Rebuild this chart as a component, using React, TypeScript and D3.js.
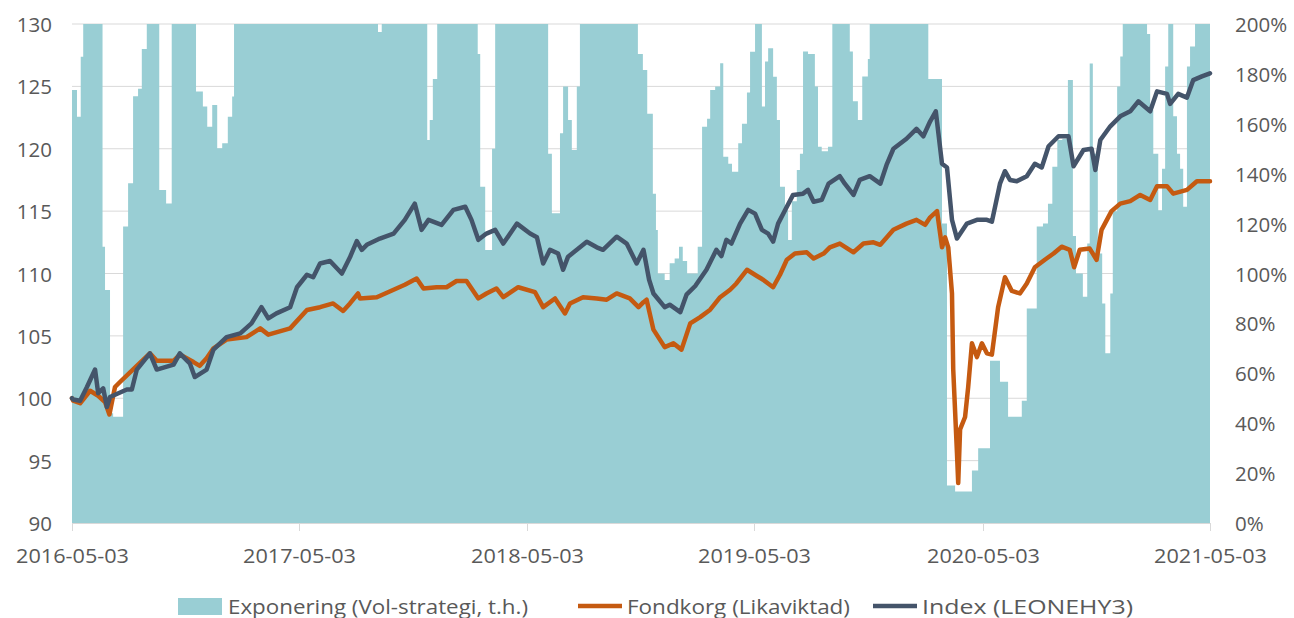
import React from "react";
import * as d3 from "d3";

// ---------- DATA ----------
const xTickLabels = ["2016-05-03", "2017-05-03", "2018-05-03", "2019-05-03", "2020-05-03", "2021-05-03"];
const leftTicks = [90, 95, 100, 105, 110, 115, 120, 125, 130];
const rightTicks = [0, 20, 40, 60, 80, 100, 120, 140, 160, 180, 200];
const seriesNames = ["Exponering (Vol-strategi, t.h.)", "Fondkorg (Likaviktad)", "Index (LEONEHY3)"];

// Exposure (%), step series: [start date, value]
const exposure: [string, number][] = [
  ["2016-05-03", 173.5], ["2016-05-11", 162.8], ["2016-05-17", 186.9], ["2016-05-21", 200],
  ["2016-06-21", 110.7], ["2016-06-25", 93.4], ["2016-07-03", 44], ["2016-07-08", 42.6],
  ["2016-07-24", 118.8], ["2016-07-27", 118.8], ["2016-08-01", 136.2], ["2016-08-09", 171],
  ["2016-08-17", 174], ["2016-08-23", 190], ["2016-08-31", 200], ["2016-09-20", 133.5],
  ["2016-10-01", 128.1], ["2016-10-10", 200], ["2016-11-18", 172.9], ["2016-11-29", 166.9],
  ["2016-12-06", 158.8], ["2016-12-14", 167.5], ["2016-12-22", 150.2], ["2016-12-30", 152.2],
  ["2017-01-08", 162.8], ["2017-01-15", 170.9], ["2017-01-18", 200],
  ["2017-09-06", 196.8], ["2017-09-12", 200],
  ["2017-11-24", 153.5], ["2017-11-28", 161.5], ["2017-12-03", 178], ["2017-12-10", 200],
  ["2018-02-13", 188], ["2018-02-17", 134.8], ["2018-02-25", 109.4], ["2018-03-08", 150], ["2018-03-13", 200],
  ["2018-06-06", 148], ["2018-06-12", 124.1], ["2018-06-25", 156.2], ["2018-06-30", 174.9],
  ["2018-07-08", 161.5], ["2018-07-14", 149.5], ["2018-07-22", 174.9], ["2018-07-27", 200],
  ["2018-10-28", 188], ["2018-11-05", 181.6], ["2018-11-12", 164], ["2018-11-21", 132],
  ["2018-11-26", 117.4], ["2018-11-29", 100], ["2018-12-10", 97.4], ["2018-12-18", 104.1],
  ["2018-12-26", 106], ["2019-01-02", 110.7], ["2019-01-08", 105], ["2019-01-15", 100],
  ["2019-02-01", 110.7], ["2019-02-08", 158.8], ["2019-02-16", 162], ["2019-02-21", 173.5],
  ["2019-03-01", 175], ["2019-03-09", 184.3], ["2019-03-14", 146.8], ["2019-03-22", 144],
  ["2019-03-28", 140.8], ["2019-04-07", 152.2], ["2019-04-13", 160], ["2019-04-21", 172.5],
  ["2019-04-26", 188.9], ["2019-05-04", 200], ["2019-05-15", 166.9], ["2019-05-20", 185],
  ["2019-05-25", 190.3], ["2019-06-02", 178.9], ["2019-06-08", 161.5], ["2019-06-13", 134.8],
  ["2019-06-21", 125.4], ["2019-06-26", 113.4], ["2019-07-02", 129], ["2019-07-10", 141.5],
  ["2019-07-15", 148], ["2019-07-20", 189], ["2019-07-28", 188], ["2019-08-08", 175],
  ["2019-08-13", 150.8], ["2019-08-19", 149], ["2019-08-29", 150.8], ["2019-09-05", 200],
  ["2019-10-03", 189], ["2019-10-08", 169], ["2019-10-16", 161.5], ["2019-10-23", 179],
  ["2019-11-01", 186], ["2019-11-04", 200], ["2020-02-06", 178], ["2020-02-28", 120],
  ["2020-03-07", 15], ["2020-03-20", 12.6], ["2020-04-16", 21], ["2020-04-26", 30],
  ["2020-05-15", 65], ["2020-05-31", 56.6], ["2020-06-13", 42.6], ["2020-07-05", 49],
  ["2020-07-13", 86], ["2020-07-29", 118.8], ["2020-08-08", 120], ["2020-08-16", 128],
  ["2020-08-23", 142.8], ["2020-08-31", 153.5], ["2020-09-08", 154], ["2020-09-17", 177.6],
  ["2020-09-25", 115], ["2020-09-30", 100], ["2020-10-11", 90.7], ["2020-10-18", 112],
  ["2020-10-22", 184.2], ["2020-10-27", 148], ["2020-11-04", 108], ["2020-11-11", 88],
  ["2020-11-16", 68], ["2020-11-24", 92], ["2020-11-28", 125], ["2020-12-05", 175],
  ["2020-12-10", 187], ["2020-12-14", 200], ["2021-01-22", 196], ["2021-01-27", 165.5],
  ["2021-02-01", 148], ["2021-02-09", 125.4], ["2021-02-15", 142], ["2021-02-20", 183],
  ["2021-02-25", 200], ["2021-03-05", 163], ["2021-03-11", 148], ["2021-03-16", 142],
  ["2021-03-21", 126.8], ["2021-03-27", 183], ["2021-04-01", 191], ["2021-04-09", 200],
  ["2021-05-03", 200],
];

// Fondkorg (Likaviktad)
const fondkorg: [string, number][] = [
  ["2016-05-03", 100.0], ["2016-05-05", 99.8], ["2016-05-16", 99.6], ["2016-06-01", 100.6],
  ["2016-06-14", 100.2], ["2016-06-25", 99.7], ["2016-07-02", 98.7], ["2016-07-11", 100.9],
  ["2016-07-19", 101.3], ["2016-08-15", 102.6], ["2016-09-05", 103.6], ["2016-09-16", 103.0],
  ["2016-10-13", 103.0], ["2016-10-23", 103.5], ["2016-11-14", 102.9], ["2016-11-24", 102.6],
  ["2016-12-05", 103.2], ["2016-12-16", 104.0], ["2017-01-06", 104.7], ["2017-02-07", 104.9],
  ["2017-03-01", 105.6], ["2017-03-14", 105.1], ["2017-04-18", 105.6], ["2017-05-15", 107.07],
  ["2017-06-05", 107.3], ["2017-06-26", 107.6], ["2017-07-12", 107.0], ["2017-07-23", 107.6],
  ["2017-08-05", 108.4], ["2017-08-08", 108.0], ["2017-09-04", 108.1], ["2017-10-01", 108.7],
  ["2017-10-19", 109.1], ["2017-11-07", 109.6], ["2017-11-18", 108.8], ["2017-12-09", 108.9],
  ["2017-12-25", 108.9], ["2018-01-10", 109.4], ["2018-01-26", 109.4], ["2018-02-14", 108.0],
  ["2018-02-27", 108.4], ["2018-03-15", 108.8], ["2018-03-26", 108.1], ["2018-04-19", 108.9],
  ["2018-05-16", 108.5], ["2018-05-29", 107.3], ["2018-06-17", 108.0], ["2018-07-03", 106.8],
  ["2018-07-11", 107.6], ["2018-08-01", 108.1], ["2018-08-23", 108.0], ["2018-09-08", 107.9],
  ["2018-09-24", 108.4], ["2018-10-15", 108.0], ["2018-10-29", 107.3], ["2018-11-06", 107.7],
  ["2018-11-11", 107.9], ["2018-11-22", 105.5], ["2018-12-10", 104.1], ["2018-12-24", 104.4],
  ["2019-01-06", 103.9], ["2019-01-20", 106.0], ["2019-02-05", 106.5], ["2019-02-21", 107.1],
  ["2019-03-09", 108.1], ["2019-03-25", 108.7], ["2019-04-04", 109.2], ["2019-04-21", 110.3],
  ["2019-05-07", 109.8], ["2019-05-17", 109.5], ["2019-06-02", 108.9], ["2019-06-13", 109.9],
  ["2019-06-24", 111.1], ["2019-07-07", 111.6], ["2019-07-26", 111.7], ["2019-08-06", 111.2],
  ["2019-08-22", 111.6], ["2019-09-01", 112.1], ["2019-09-17", 112.4], ["2019-10-09", 111.7],
  ["2019-10-25", 112.4], ["2019-11-10", 112.5], ["2019-11-21", 112.3], ["2019-12-12", 113.5],
  ["2020-01-02", 114.0], ["2020-01-18", 114.3], ["2020-02-01", 113.9], ["2020-02-09", 114.5],
  ["2020-02-20", 115.0], ["2020-02-28", 112.1], ["2020-03-04", 112.9], ["2020-03-09", 112.1],
  ["2020-03-15", 108.4], ["2020-03-17", 102.3], ["2020-03-23", 95.6], ["2020-03-25", 93.2],
  ["2020-03-28", 97.5], ["2020-04-05", 98.5], ["2020-04-10", 100.9], ["2020-04-16", 104.4],
  ["2020-04-24", 103.3], ["2020-05-02", 104.4], ["2020-05-10", 103.6], ["2020-05-18", 103.5],
  ["2020-05-28", 107.3], ["2020-06-08", 109.7], ["2020-06-19", 108.6], ["2020-07-02", 108.4],
  ["2020-07-13", 109.2], ["2020-07-26", 110.5], ["2020-08-11", 111.1], ["2020-08-25", 111.6],
  ["2020-09-07", 112.15], ["2020-09-20", 111.9], ["2020-09-27", 110.5], ["2020-10-06", 111.9],
  ["2020-10-22", 112.0], ["2020-11-02", 111.1], ["2020-11-10", 113.5], ["2020-11-26", 115.0],
  ["2020-12-10", 115.6], ["2020-12-26", 115.8], ["2021-01-11", 116.3], ["2021-01-27", 115.9],
  ["2021-02-07", 117.0], ["2021-02-23", 117.0], ["2021-03-05", 116.4], ["2021-03-27", 116.7],
  ["2021-04-12", 117.4], ["2021-05-03", 117.4],
];

// Index (LEONEHY3)
const indexSeries: [string, number][] = [
  ["2016-05-03", 100.0], ["2016-05-05", 99.9], ["2016-05-16", 99.8], ["2016-05-27", 100.9],
  ["2016-06-09", 102.3], ["2016-06-14", 100.4], ["2016-06-22", 100.8], ["2016-06-28", 99.3],
  ["2016-07-03", 100.1], ["2016-07-30", 100.7], ["2016-08-07", 100.7], ["2016-08-15", 102.3],
  ["2016-09-05", 103.6], ["2016-09-16", 102.3], ["2016-10-13", 102.7], ["2016-10-23", 103.6],
  ["2016-11-08", 102.8], ["2016-11-16", 101.7], ["2016-12-05", 102.3], ["2016-12-16", 103.9],
  ["2017-01-06", 104.9], ["2017-01-28", 105.2], ["2017-02-15", 106.0], ["2017-03-03", 107.3],
  ["2017-03-14", 106.4], ["2017-03-27", 106.8], ["2017-04-18", 107.3], ["2017-04-29", 108.9],
  ["2017-05-15", 109.9], ["2017-05-25", 109.7], ["2017-06-05", 110.8], ["2017-06-21", 111.0],
  ["2017-07-10", 110.0], ["2017-07-23", 111.3], ["2017-08-03", 112.6], ["2017-08-11", 111.9],
  ["2017-08-19", 112.3], ["2017-09-09", 112.8], ["2017-10-01", 113.2], ["2017-10-19", 114.3],
  ["2017-11-04", 115.6], ["2017-11-15", 113.5], ["2017-11-26", 114.3], ["2017-12-17", 113.9],
  ["2018-01-05", 115.1], ["2018-01-24", 115.35], ["2018-02-03", 114.3], ["2018-02-14", 112.7],
  ["2018-02-27", 113.2], ["2018-03-13", 113.5], ["2018-03-26", 112.4], ["2018-04-17", 114.0],
  ["2018-05-08", 113.2], ["2018-05-19", 112.9], ["2018-05-29", 110.8], ["2018-06-09", 111.9],
  ["2018-06-22", 111.6], ["2018-06-30", 110.3], ["2018-07-08", 111.35], ["2018-07-27", 112.1],
  ["2018-08-07", 112.55], ["2018-08-23", 112.1], ["2018-09-02", 111.9], ["2018-09-24", 112.95],
  ["2018-10-10", 112.4], ["2018-10-26", 110.8], ["2018-11-06", 111.9], ["2018-11-15", 109.5],
  ["2018-11-22", 108.4], ["2018-12-10", 107.3], ["2018-12-18", 107.5], ["2019-01-04", 106.9],
  ["2019-01-14", 108.3], ["2019-01-28", 109.0], ["2019-02-15", 110.3], ["2019-03-03", 111.9],
  ["2019-03-11", 111.4], ["2019-03-19", 112.7], ["2019-03-27", 112.4], ["2019-04-10", 114.0],
  ["2019-04-23", 115.1], ["2019-05-04", 114.8], ["2019-05-15", 113.5], ["2019-05-25", 113.2],
  ["2019-06-02", 112.55], ["2019-06-10", 114.0], ["2019-06-24", 115.35], ["2019-07-04", 116.3],
  ["2019-07-20", 116.4], ["2019-07-28", 116.7], ["2019-08-06", 115.75], ["2019-08-19", 115.9],
  ["2019-08-30", 117.2], ["2019-09-17", 117.8], ["2019-09-25", 117.2], ["2019-10-09", 116.3],
  ["2019-10-19", 117.5], ["2019-11-04", 117.8], ["2019-11-21", 117.2], ["2019-12-01", 118.7],
  ["2019-12-12", 120.0], ["2020-01-02", 120.8], ["2020-01-18", 121.6], ["2020-01-29", 121.0],
  ["2020-02-09", 122.2], ["2020-02-18", 123.0], ["2020-02-28", 118.8], ["2020-03-07", 118.5],
  ["2020-03-15", 114.3], ["2020-03-23", 112.8], ["2020-04-08", 114.0], ["2020-04-24", 114.3],
  ["2020-05-10", 114.3], ["2020-05-18", 114.15], ["2020-05-31", 117.2], ["2020-06-08", 118.2],
  ["2020-06-16", 117.5], ["2020-06-27", 117.4], ["2020-07-13", 117.8], ["2020-07-26", 118.8],
  ["2020-08-06", 118.5], ["2020-08-17", 120.2], ["2020-09-02", 121.0], ["2020-09-18", 121.0],
  ["2020-09-26", 118.6], ["2020-10-12", 119.9], ["2020-10-25", 120.0], ["2020-10-31", 118.3],
  ["2020-11-08", 120.7], ["2020-11-24", 121.8], ["2020-12-10", 122.6], ["2020-12-26", 123.0],
  ["2021-01-08", 123.8], ["2021-01-27", 123.0], ["2021-02-07", 124.6], ["2021-02-23", 124.4],
  ["2021-02-28", 123.6], ["2021-03-13", 124.4], ["2021-03-27", 124.1], ["2021-04-06", 125.5],
  ["2021-04-20", 125.8], ["2021-05-03", 126.05],
];

// ---------- CHART ----------
const W = 1294;
const H = 618;
const M = { left: 72, right: 1210, top: 24, bottom: 523 };
const FONT = "'Open Sans', 'Noto Sans', sans-serif";
const TEXT_COLOR = "#595959";
const COLORS = { exposure: "#99CED4", fond: "#C55A11", index: "#44546A", grid: "#D9D9D9" };

const parse = d3.timeParse("%Y-%m-%d");

export default function App() {
  const x = d3
    .scaleTime()
    .domain([parse(xTickLabels[0])!, parse(xTickLabels[xTickLabels.length - 1])!])
    .range([M.left, M.right]);
  const yL = d3.scaleLinear().domain([90, 130]).range([M.bottom, M.top]);
  const yR = d3.scaleLinear().domain([0, 200]).range([M.bottom, M.top]);

  const areaGen = d3
    .area<[string, number]>()
    .x((d) => x(parse(d[0])!))
    .y0(yR(0))
    .y1((d) => yR(Math.min(200, d[1])))
    .curve(d3.curveStepAfter);

  const lineGen = d3
    .line<[string, number]>()
    .x((d) => x(parse(d[0])!))
    .y((d) => yL(d[1]));

  const legendY = 606;

  return (
    <svg
      width={W}
      height={H}
      viewBox={`0 0 ${W} ${H}`}
      style={{ position: "absolute", left: 0, top: 0, background: "#fff" }}
      fontFamily={FONT}
    >
      {leftTicks.map((t) => (
        <line key={"g" + t} x1={M.left} x2={M.right} y1={yL(t)} y2={yL(t)} stroke={COLORS.grid} strokeWidth={1} />
      ))}
      <path d={areaGen(exposure) || ""} fill={COLORS.exposure} />
      <line x1={M.left} x2={M.right} y1={M.bottom + 0.5} y2={M.bottom + 0.5} stroke={COLORS.grid} strokeWidth={1} />
      {xTickLabels.map((t) => {
        const xx = Math.round(x(parse(t)!)) + 0.5;
        return (
          <g key={"xt" + t}>
            <line x1={xx} x2={xx} y1={M.bottom} y2={M.bottom + 8} stroke={COLORS.grid} strokeWidth={1} />
            <text x={xx} y={555} textAnchor="middle" dominantBaseline="central" fontSize={20} fill={TEXT_COLOR} textLength={113} lengthAdjust="spacingAndGlyphs">
              {t}
            </text>
          </g>
        );
      })}
      <path d={lineGen(fondkorg) || ""} fill="none" stroke={COLORS.fond} strokeWidth={4.5} strokeLinejoin="round" strokeLinecap="round" />
      <path d={lineGen(indexSeries) || ""} fill="none" stroke={COLORS.index} strokeWidth={4.5} strokeLinejoin="round" strokeLinecap="round" />
      {leftTicks.map((t) => (
        <text key={"yl" + t} x={52} y={yL(t)} textAnchor="end" dominantBaseline="central" fontSize={20.5} fill={TEXT_COLOR}>
          {t}
        </text>
      ))}
      {rightTicks.map((t) => (
        <text key={"yr" + t} x={1235} y={yR(t)} textAnchor="start" dominantBaseline="central" fontSize={20.5} fill={TEXT_COLOR}>
          {t + "%"}
        </text>
      ))}
      <rect x={178} y={legendY - 8} width={44} height={17} fill={COLORS.exposure} />
      <text x={228} y={legendY} dominantBaseline="central" fontSize={20} fill={TEXT_COLOR} textLength={300} lengthAdjust="spacingAndGlyphs">
        {seriesNames[0]}
      </text>
      <line x1={578} x2={622} y1={legendY} y2={legendY} stroke={COLORS.fond} strokeWidth={4.5} />
      <text x={627} y={legendY} dominantBaseline="central" fontSize={20} fill={TEXT_COLOR} textLength={223} lengthAdjust="spacingAndGlyphs">
        {seriesNames[1]}
      </text>
      <line x1={873} x2={917} y1={legendY} y2={legendY} stroke={COLORS.index} strokeWidth={4.5} />
      <text x={922} y={legendY} dominantBaseline="central" fontSize={20} fill={TEXT_COLOR} textLength={211} lengthAdjust="spacingAndGlyphs">
        {seriesNames[2]}
      </text>
    </svg>
  );
}
